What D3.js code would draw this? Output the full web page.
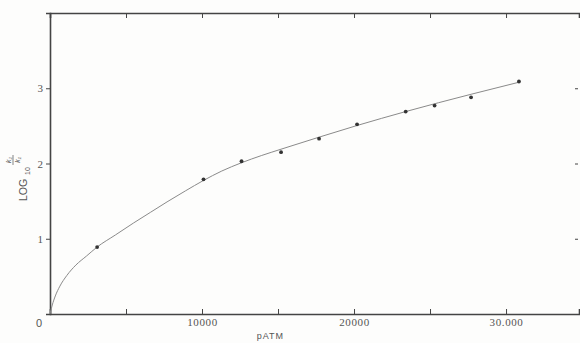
<!DOCTYPE html>
<html>
<head>
<meta charset="utf-8">
<script src="https://cdn.jsdelivr.net/npm/d3@7/dist/d3.min.js"></script>
<style>
  html, body { margin: 0; padding: 0; background: #fdfdfc; }
  svg { display: block; }
  text { font-family: "Liberation Sans", "DejaVu Sans", sans-serif; }
</style>
</head>
<body>
<svg id="chart" width="580" height="343"></svg>
<script>
// Measured points (pressure in atm, log10 k2/k1)
const pointP = [3100, 10100, 12600, 15200, 17700, 20200, 23400, 25300, 27700, 30850];
const pointLog = [0.89, 1.79, 2.03, 2.15, 2.33, 2.52, 2.69, 2.77, 2.88, 3.09];

// Smooth fitted curve
const curveP = [0, 150, 350, 650, 1100, 1700, 2400, 3100, 4300, 5500, 6600, 7700, 8900, 10100, 11300, 12600, 13900, 15200, 17700, 20200, 23400, 27700, 30850];
const curveLog = [0, 0.12, 0.24, 0.37, 0.51, 0.65, 0.77, 0.89, 1.05, 1.21, 1.35, 1.49, 1.635, 1.775, 1.9, 2.01, 2.105, 2.19, 2.35, 2.505, 2.69, 2.92, 3.08];

// Axis ticks and labels
const xTicks = [5000, 10000, 15000, 20000, 25000, 30000];
const xTickLabels = {10000: "10000", 20000: "20000", 30000: "30.000"};
const yTicks = [1, 2, 3];
const xTitle = "pATM";

const svg = d3.select("#chart");
const x = d3.scaleLinear().domain([0, 34800]).range([50, 579]);
const y = d3.scaleLinear().domain([0, 4]).range([314, 13]);

const axisColor = "#444";
const textColor = "#555";

// bottom axis
const gB = svg.append("g").attr("transform", `translate(0,${y(0)})`)
  .call(d3.axisBottom(x).tickValues(xTicks).tickSize(-5).tickPadding(4)
    .tickFormat(d => xTickLabels[d] || ""));
// top axis
const gT = svg.append("g").attr("transform", `translate(0,${y(4)})`)
  .call(d3.axisTop(x).tickValues(xTicks).tickSize(-5).tickFormat(""));
// left axis
const gL = svg.append("g").attr("transform", `translate(${x(0)},0)`)
  .call(d3.axisLeft(y).tickValues(yTicks).tickSize(4).tickPadding(3).tickFormat(d3.format("d")));
// right axis (ticks only)
const gR = svg.append("g").attr("transform", `translate(${x.range()[1] - 1},0)`)
  .call(d3.axisRight(y).tickValues(yTicks).tickSize(-3).tickFormat(""));
gR.select(".domain").remove();

[gB, gT, gL].forEach(g => {
  g.select(".domain").attr("stroke", axisColor).attr("stroke-width", 1.6);
});
[gB, gT, gL, gR].forEach(g => {
  g.selectAll(".tick line").attr("stroke", axisColor).attr("stroke-width", 1);
  g.selectAll(".tick text").attr("fill", textColor)
    .style("font-family", "'Liberation Serif', 'DejaVu Serif', serif");
});
gB.selectAll(".tick text").style("font-size", "11px").style("letter-spacing", "0.6px");
gL.selectAll(".tick text").style("font-size", "11px");

// origin label
svg.append("text").attr("x", x(0) - 11).attr("y", y(0) + 13).attr("fill", textColor)
  .attr("text-anchor", "middle").style("font-size", "11px").text("0");

// x title
svg.append("text").attr("x", x(14500)).attr("y", 339).attr("fill", textColor)
  .attr("text-anchor", "middle").style("font-size", "9px").style("letter-spacing", "1px")
  .text(xTitle);

// y title: LOG10 k2/k1, rotated
const yt = svg.append("g").attr("transform", "translate(24,201) rotate(-90)");
yt.append("text").attr("x", 0).attr("y", 3).attr("fill", textColor).style("font-size", "10.5px").text("LOG");
yt.append("text").attr("x", 26).attr("y", 6).attr("fill", textColor).style("font-size", "7px").text("10");
yt.append("text").attr("x", 41).attr("y", -13).attr("text-anchor", "middle").attr("fill", textColor)
  .style("font-size", "7px").style("font-style", "italic").text("k₂");
yt.append("line").attr("x1", 36).attr("x2", 46).attr("y1", -11).attr("y2", -11)
  .attr("stroke", "#666").attr("stroke-width", 0.8);
yt.append("text").attr("x", 41).attr("y", -4).attr("text-anchor", "middle").attr("fill", textColor)
  .style("font-size", "7px").style("font-style", "italic").text("k₁");

// curve
const curveData = curveP.map((p, i) => [p, curveLog[i]]);
svg.append("path").datum(curveData)
  .attr("fill", "none").attr("stroke", "#8a8a8a").attr("stroke-width", 1)
  .attr("d", d3.line().x(d => x(d[0])).y(d => y(d[1])).curve(d3.curveMonotoneX));

// points
const pts = pointP.map((p, i) => [p, pointLog[i]]);
svg.append("g").selectAll("circle").data(pts).join("circle")
  .attr("cx", d => x(d[0])).attr("cy", d => y(d[1])).attr("r", 1.9)
  .attr("fill", "#333");
</script>
</body>
</html>
